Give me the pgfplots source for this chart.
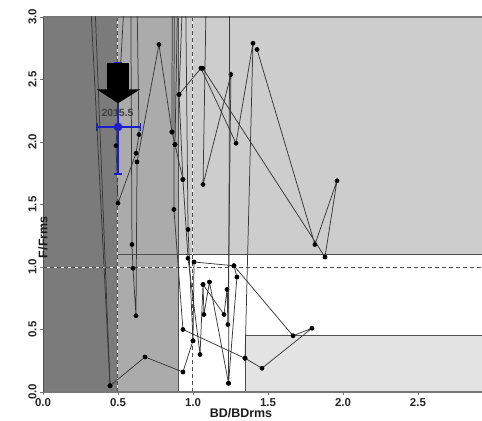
\documentclass[border=0pt]{standalone}
\usepackage{fontspec}
\setmainfont{Liberation Sans}
\usepackage{pgfplots}
\pgfplotsset{compat=1.18}
\definecolor{darkreg}{HTML}{7B7B7B}
\definecolor{medreg}{HTML}{ABABAB}
\definecolor{lightreg}{HTML}{CDCDCD}
\definecolor{vlightreg}{HTML}{E3E3E3}
\definecolor{linec}{HTML}{383838}
\definecolor{framec}{HTML}{787878}
\definecolor{borderc}{HTML}{505050}
\definecolor{blueb}{HTML}{1C1CD0}
\pgfplotsset{traj/.style={linec, solid, line width=0.75pt, mark=*, mark size=2pt, mark options={fill=black, draw=black, solid}}}
\begin{document}
\begin{tikzpicture}
\begin{axis}[
  scale only axis, width=439bp, height=375bp,
  xmin=0, xmax=2.927, ymin=0, ymax=3,
  clip mode=individual,
  axis line style={draw=none},
  xtick={0,0.5,1,1.5,2,2.5}, ytick={0,0.5,1,1.5,2,2.5,3},
  xticklabels={0.0,0.5,1.0,1.5,2.0,2.5},
  yticklabels={0.0,0.5,1.0,1.5,2.0,2.5,3.0},
  xtick pos=lower, ytick pos=left,
  tick align=outside, major tick length=3bp,
  tick style={framec, line width=0.8pt},
  ticklabel style={font=\fontsize{11.5}{12}\selectfont\bfseries, text=black!85},
  yticklabel style={rotate=90, anchor=south},
  xlabel={BD/BDrms}, ylabel={F/Frms},
  label style={font=\fontsize{12.5}{13}\selectfont\bfseries, text=black!90},
  xlabel style={at={(rel axis cs:0.451,0)}, anchor=center, yshift=-21bp},
  ylabel style={at={(rel axis cs:0,0.49)}, anchor=center, xshift=-29bp},
]
% background regions
\fill[darkreg] (axis cs:0,0) rectangle (axis cs:0.5,3);
\fill[medreg] (axis cs:0.5,0) rectangle (axis cs:0.9,3);
\fill[lightreg] (axis cs:0.9,1.1) rectangle (axis cs:2.927,3);
\fill[vlightreg] (axis cs:1.35,0) rectangle (axis cs:2.927,0.45);
% region borders
\draw[borderc, line width=0.7pt] (axis cs:0.9,0) -- (axis cs:0.9,3);
\draw[borderc, line width=0.7pt] (axis cs:0.5,1.1) -- (axis cs:2.927,1.1);
\draw[borderc, line width=0.7pt] (axis cs:1.35,0) -- (axis cs:1.35,0.45) -- (axis cs:2.927,0.45);
% dashed reference lines
\draw[white, line width=1pt] (axis cs:0,1) -- (axis cs:2.927,1);
\draw[borderc, line width=1pt, dash pattern=on 4bp off 3bp] (axis cs:0,1) -- (axis cs:2.927,1);
\draw[white, line width=1pt] (axis cs:0.5,0) -- (axis cs:0.5,3);
\draw[borderc, line width=1pt, dash pattern=on 4bp off 3bp] (axis cs:0.5,0) -- (axis cs:0.5,3);
\draw[white, line width=1pt] (axis cs:1,0) -- (axis cs:1,3);
\draw[borderc, line width=1pt, dash pattern=on 4bp off 3bp] (axis cs:1,0) -- (axis cs:1,3);
% frame
\draw[framec, line width=1.6pt] (rel axis cs:0,1) -- (rel axis cs:1,1);
\draw[framec, line width=1.2pt] (rel axis cs:0,0) -- (rel axis cs:1,0);
\draw[borderc, line width=1pt] (rel axis cs:0,0) -- (rel axis cs:0,1);
% label of the highlighted point
\node[font=\fontsize{10.5}{11}\selectfont\bfseries, text=black!75] at (axis cs:0.497,2.23) {2015.5};
% highlighted point with error bars
\addplot[blueb, line width=1.6pt, mark=*, mark size=3.5pt, mark options={fill=blueb, draw=blueb},
  error bars/.cd, x dir=both, x explicit, y dir=both, y explicit,
  error bar style={line width=1.8pt, blueb},
  error mark options={rotate=90, mark size=4pt, line width=1.5pt, blueb}]
  coordinates {(0.5,2.12) += (0.15,0.51) -= (0.14,0.376)};
% trajectories
\addplot[traj] coordinates {(0.31,3.3) (0.447,0.05) (0.68,0.28) (0.933,0.16) (1.0,0.41) (1.007,1.04) (1.273,1.01) (1.667,0.45) (1.793,0.51) (1.46,0.19) (1.347,0.27) (0.933,0.50) (0.873,1.46) (0.875,3.3)};
\addplot[traj] coordinates {(0.34,3.3) (0.447,0.05)};
\addplot[traj] coordinates {(0.55,3.3) (0.487,1.97) (0.50,1.51) (0.62,1.91) (0.64,2.06) (0.625,3.3)};
\addplot[traj] coordinates {(0.585,3.3) (0.593,1.18) (0.60,0.99) (0.62,0.61) (0.627,1.84) (0.773,2.78) (0.86,2.08) (0.88,1.98) (0.933,1.70) (0.967,1.07) (1.047,0.30) (1.067,0.86) (1.073,0.62) (1.11,0.88) (1.237,0.07) (1.293,0.92) (1.273,1.01)};
\addplot[traj] coordinates {(0.935,3.3) (0.907,2.38) (1.053,2.59) (1.287,1.99) (1.40,2.79) (1.347,0.27)};
\addplot[traj] coordinates {(1.09,3.3) (1.067,1.66) (1.253,2.54) (1.233,0.54) (1.227,0.82) (1.207,0.62) (1.067,0.86)};
\addplot[traj] coordinates {(1.427,2.74) (1.813,1.18) (1.96,1.69) (1.88,1.08) (1.065,2.59)};
\addplot[traj] coordinates {(0.95,3.3) (0.967,1.30) (1.0,0.41)};
\addplot[traj] coordinates {(1.245,3.3) (1.237,0.07)};
\addplot[traj] coordinates {(0.862,3.3) (0.86,2.08)};
\addplot[traj] coordinates {(0.90,3.3) (0.88,1.98)};
\addplot[traj] coordinates {(0.907,2.38) (0.933,1.70)};
% arrow
\fill[black] (axis cs:0.427,2.63) -- (axis cs:0.573,2.63) -- (axis cs:0.573,2.42) -- (axis cs:0.647,2.42) -- (axis cs:0.5,2.31) -- (axis cs:0.36,2.42) -- (axis cs:0.427,2.42) -- cycle;
\end{axis}
\pgfresetboundingbox
\path[use as bounding box] (-43bp,-29bp) rectangle (439bp,392bp);
\end{tikzpicture}
\end{document}
